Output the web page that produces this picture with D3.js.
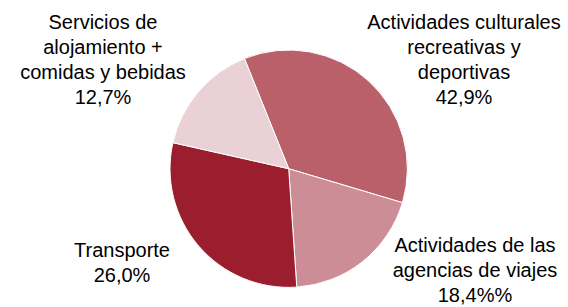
<!DOCTYPE html>
<html>
<head>
<meta charset="utf-8">
<script src="https://cdn.jsdelivr.net/npm/d3@7"></script>
<style>
	body { margin: 0; background: #fff; }
	text { font-family: "Liberation Sans", Arial, sans-serif; fill: #000; }
</style>
</head>
<body>
<div id="chart"></div>
<script>
// slice shares as drawn in the pie (angles)
const categories = ["Actividades culturales", "Actividades de las agencias", "Transporte", "Servicios de alojamiento"];
const sliceValues = [35.7, 19.3, 29.6, 15.4];
const colors = ["#b9606b", "#cd8d96", "#9b1e2e", "#e9d1d5"];

// label texts as printed
const labelLines = [
	["Actividades culturales", "recreativas y", "deportivas", "42,9%"],
	["Actividades de las", "agencias de viajes", "18,4%%"],
	["Transporte", "26,0%"],
	["Servicios de", "alojamiento +", "comidas y bebidas", "12,7%"]
];
const labelPos = [[464, 29], [475, 252], [122, 257], [103, 29]];

const width = 568, height = 307;
const cx = 288.7, cy = 168.7, radius = 118.7;
const startAngle = -21.9 * Math.PI / 180;

const svg = d3.select("#chart").append("svg")
	.attr("width", width)
	.attr("height", height);

const pie = d3.pie()
	.sort(null)
	.startAngle(startAngle)
	.endAngle(startAngle + 2 * Math.PI);

const arc = d3.arc().innerRadius(0).outerRadius(radius);

svg.append("g")
	.attr("transform", `translate(${cx},${cy})`)
	.selectAll("path")
	.data(pie(sliceValues))
	.enter()
	.append("path")
	.attr("d", arc)
	.attr("fill", (d, i) => colors[i])
	.attr("stroke", "#fff")
	.attr("stroke-width", 1);

const labels = svg.append("g")
	.selectAll("text")
	.data(labelLines)
	.enter()
	.append("text")
	.attr("text-anchor", "middle")
	.attr("font-size", 20)
	.attr("transform", (d, i) => `translate(${labelPos[i][0]},${labelPos[i][1]})`);

labels.selectAll("tspan")
	.data((d) => d)
	.enter()
	.append("tspan")
	.attr("x", 0)
	.attr("y", (d, i) => i * 25)
	.text((d) => d);
</script>
</body>
</html>
